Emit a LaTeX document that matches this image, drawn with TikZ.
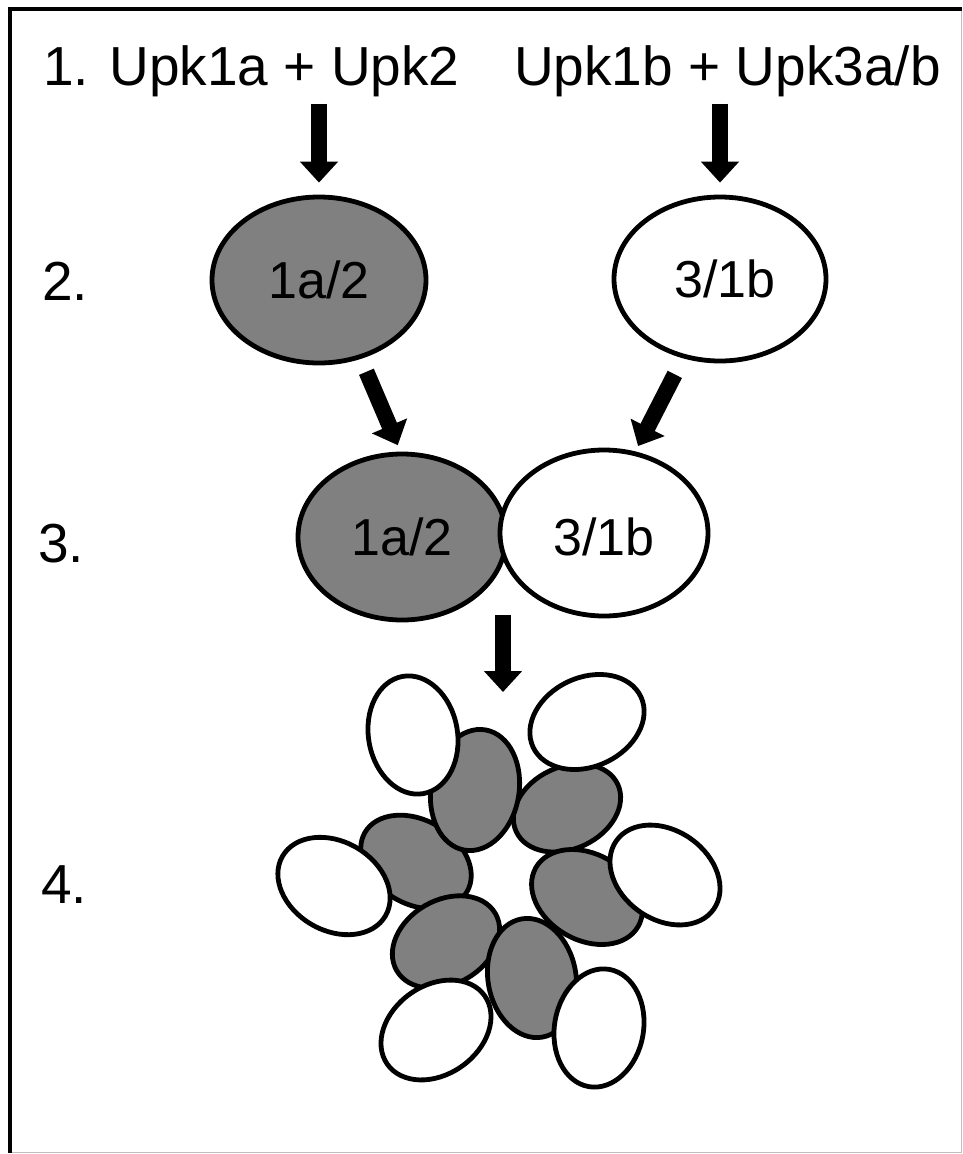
\documentclass[tikz,border=0pt]{standalone}
\usepackage{fontspec}
\setmainfont{Liberation Sans}
\usetikzlibrary{arrows.meta,shapes.geometric,calc}
\begin{document}
\begin{tikzpicture}[x=1pt,y=1pt,
  lbl/.style={font=\fontsize{55}{60}\selectfont, inner sep=0pt, anchor=base west},
  cellfont/.style={font=\fontsize{52}{58}\selectfont},
  gcell/.style={ellipse, draw=black, line width=4.8pt, fill=gray, inner sep=0pt},
  wcell/.style={ellipse, draw=black, line width=4.8pt, fill=white, inner sep=0pt},
  hexcell/.style={minimum width=119pt, minimum height=89pt},
  bigarrow/.style={line width=16pt, -{Triangle[width=37pt,length=21pt]}, black},
]
\useasboundingbox (0,0) rectangle (963,-1154);
% frame
\draw[line width=1.5pt, black!25] (961.5,-9) -- (961.5,-1152.5) -- (10,-1152.5);
\draw[line width=3.5pt] (10,-1152.5) -- (10,-9) -- (961.5,-9);

% step labels and top texts
\node[lbl] (t1) at (43,-85) {1. Upk1a + Upk2};
\node[lbl] (t2) at (514,-85) {Upk1b + Upk3a/b};
\node[lbl] (s2) at (42,-300) {2.};
\node[lbl] (s3) at (38,-562) {3.};
\node[lbl] (s4) at (41,-903) {4.};

% step 2
\node[gcell, cellfont, minimum width=214pt, minimum height=166pt] (e1) at (319,-280) {1a/2};
\node[wcell, cellfont, minimum width=212pt, minimum height=164pt] (e2) at (720,-279) {\hspace*{10pt}3/1b};

% step 3
\node[gcell, cellfont, minimum width=208pt, minimum height=166pt] (f1) at (402,-537) {1a/2};
\node[wcell, cellfont, minimum width=208pt, minimum height=166pt] (f2) at (604,-533) {\raisebox{-4pt}[\height][\depth]{3/1b}};

% arrows
\draw[bigarrow, shorten <=7pt, shorten >=12pt] (t1.south -| e1.north) -- (e1.north);
\draw[bigarrow, shorten <=7pt, shorten >=12pt] (t2.south -| e2.north) -- (e2.north);
\draw[bigarrow, shorten <=14pt, shorten >=7pt] (e1.-62) -- (f1.91);
\draw[bigarrow, shorten <=18pt, shorten >=6pt] (e2.-115) -- (f2.69);
\coordinate (m34) at ($(f1.east)!0.5!(f2.west)$);
\coordinate (hextop) at (503,-692);
\draw[bigarrow, shorten <=78pt] (m34 |- f1.center) -- (hextop);

% step 4: hexamer ring
\node[gcell, minimum width=112pt, minimum height=82pt, rotate=25] (g2) at (567,-808) {};
\node[gcell, minimum width=118pt, minimum height=84pt, rotate=-30] (g3) at (416,-862) {};
\node[gcell, minimum width=114pt, minimum height=84pt, rotate=30] (g5) at (446,-942) {};
\node[gcell, minimum width=120pt, minimum height=88pt, rotate=100] (g6) at (532,-978) {};
\node[gcell, minimum width=118pt, minimum height=86pt, rotate=-30] (g4) at (587,-897) {};
\node[gcell, minimum width=122pt, minimum height=88pt, rotate=80] (g1) at (475,-790) {};

\node[wcell, hexcell, rotate=100] (w1) at (413,-735) {};
\node[wcell, hexcell, rotate=25] (w2) at (587,-722) {};
\node[wcell, hexcell, rotate=-35] (w3) at (665,-875) {};
\node[wcell, hexcell, rotate=-30] (w4) at (334,-886) {};
\node[wcell, hexcell, rotate=35] (w5) at (436,-1030) {};
\node[wcell, hexcell, rotate=80] (w6) at (599,-1028) {};
\end{tikzpicture}
\end{document}
